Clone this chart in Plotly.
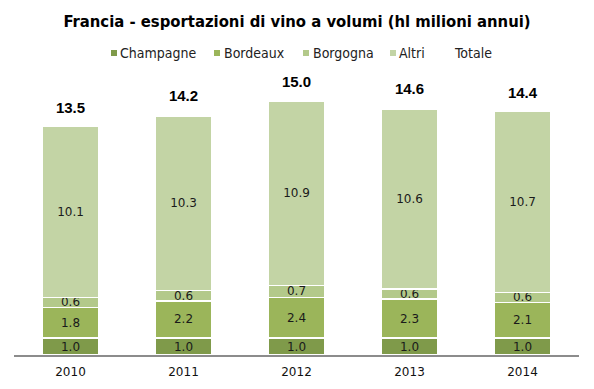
import plotly.graph_objects as go

years = ["2010", "2011", "2012", "2013", "2014"]
champagne = [1.0, 1.0, 1.0, 1.0, 1.0]
bordeaux = [1.8, 2.2, 2.4, 2.3, 2.1]
borgogna = [0.6, 0.6, 0.7, 0.6, 0.6]
altri = [10.1, 10.3, 10.9, 10.6, 10.7]
totale = [13.5, 14.2, 15.0, 14.6, 14.4]

series_names = ["Champagne", "Bordeaux", "Borgogna", "Altri"]
series_values = [champagne, bordeaux, borgogna, altri]
series_colors = ["#7f9a4a", "#9bb55a", "#b3c98a", "#c3d4a5"]

W, H = 594, 389
ML, MR, MT, MB = 14, 15, 84, 34
PW, PH = W - ML - MR, H - MT - MB

def px_x(p):
    return (p - ML) / PW

def px_y(p):
    return (H - MB - p) / PH

fig = go.Figure()
for name, vals, col in zip(series_names, series_values, series_colors):
    fig.add_trace(go.Bar(
        x=years, y=vals, name=name, showlegend=False,
        marker=dict(color=col, line=dict(color="white", width=1.5)),
        text=[f"{v:.1f}" for v in vals],
        textposition="inside", insidetextanchor="middle",
        constraintext="none",
        textfont=dict(family="DejaVu Sans", size=12, color="#1a1a1a"),
        width=0.5,
    ))

fig.add_trace(go.Scatter(
    x=years, y=totale, name="Totale", showlegend=False,
    mode="markers+text",
    marker=dict(size=14, color="rgba(0,0,0,0)"),
    text=[f"{v:.1f}" for v in totale],
    textposition="top center",
    textfont=dict(family="Liberation Sans", size=15, color="black", weight="bold"),
    cliponaxis=False,
))

# custom legend (entries: name, colour, square-left px, text-left px)
legend_entries = [
    ("Champagne", series_colors[0], 111, 119),
    ("Bordeaux", series_colors[1], 214, 223),
    ("Borgogna", series_colors[2], 303, 312),
    ("Altri", series_colors[3], 390, 398),
    ("Totale", None, None, 453),
]
shapes = []
annotations = []
for name, col, sq, tx in legend_entries:
    if col is not None:
        shapes.append(dict(
            type="rect", xref="paper", yref="paper",
            x0=px_x(sq), x1=px_x(sq + 6), y0=px_y(56), y1=px_y(50),
            fillcolor=col, line=dict(width=0),
        ))
    annotations.append(dict(
        text=name, xref="paper", yref="paper", x=px_x(tx - 1), y=px_y(53),
        xanchor="left", yanchor="middle", showarrow=False,
        font=dict(family="DejaVu Sans Condensed", size=14, color="#222"),
    ))

fig.update_layout(
    width=W, height=H,
    barmode="stack",
    bargap=0.5,
    plot_bgcolor="white", paper_bgcolor="white",
    margin=dict(l=ML, r=MR, t=MT, b=MB, autoexpand=False),
    title=dict(
        text="<b>Francia - esportazioni di vino a volumi (hl milioni annui)</b>",
        x=0.5, xanchor="center", y=0.946, yanchor="middle",
        font=dict(family="DejaVu Sans Condensed", size=16.5, color="black"),
    ),
    showlegend=False,
    shapes=shapes,
    annotations=annotations,
    xaxis=dict(
        showline=True, linecolor="#8c8c8c", linewidth=1.5,
        ticks="", ticklabelstandoff=5, automargin=False,
        tickfont=dict(family="DejaVu Sans", size=12, color="#111"),
        showgrid=False,
    ),
    yaxis=dict(range=[0, 16], visible=False, showgrid=False),
)

fig.write_html("out.html", config={"displayModeBar": False},
               post_script="document.body.style.margin='0';")
